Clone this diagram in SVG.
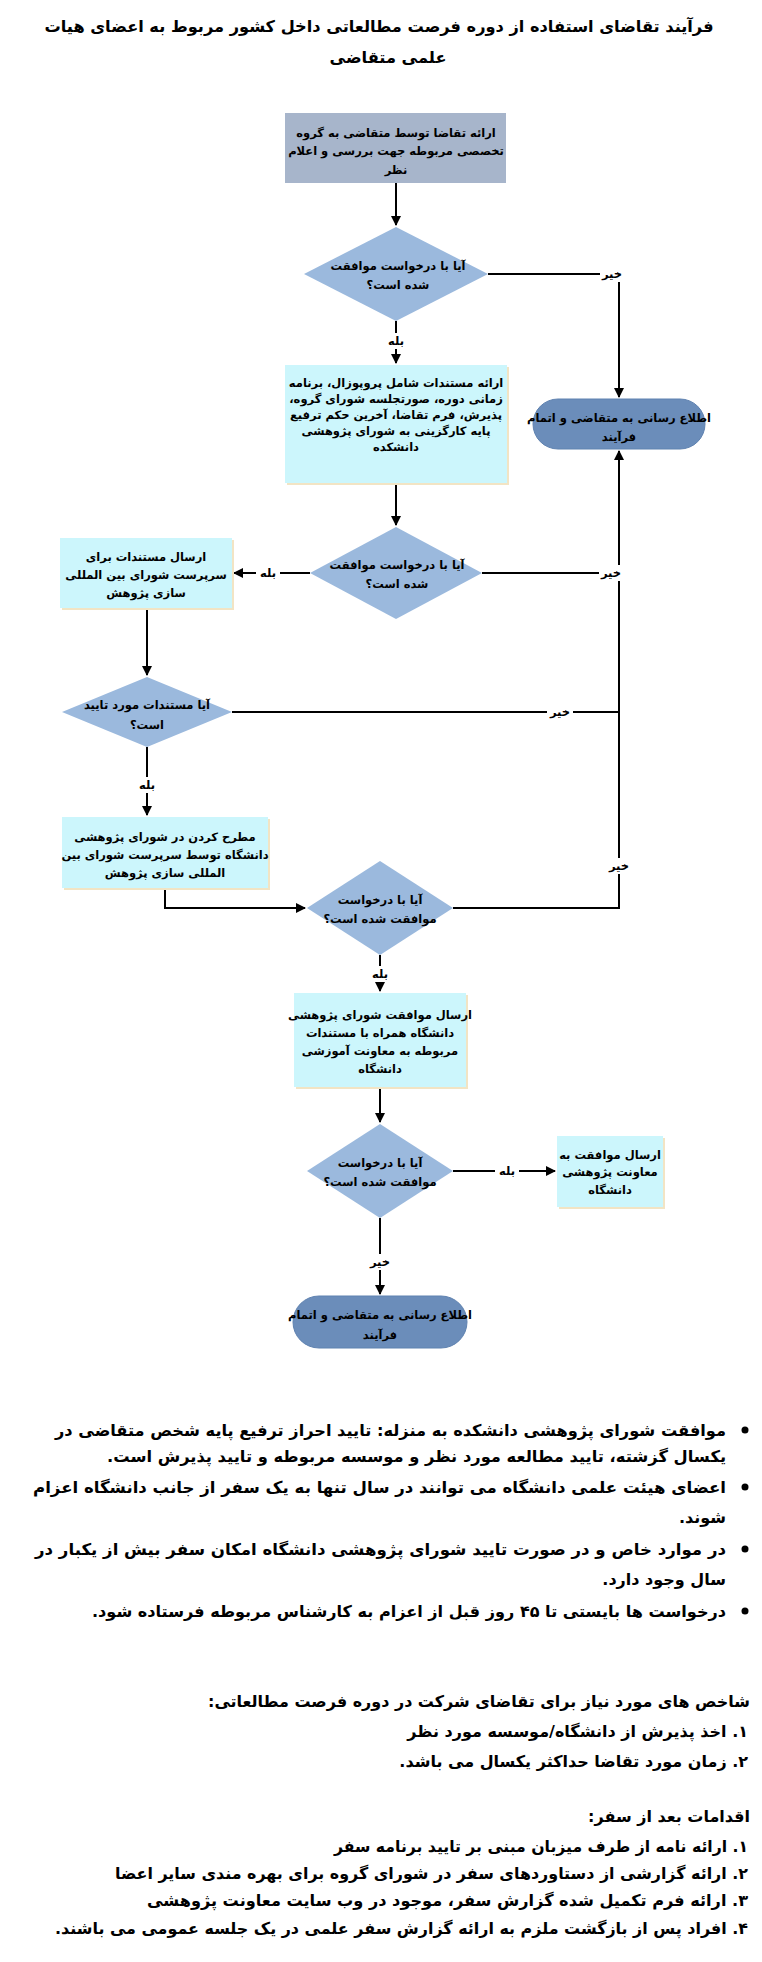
<svg xmlns="http://www.w3.org/2000/svg" width="762" height="1962" viewBox="0 0 762 1962">
<style>
text { font-family: "DejaVu Sans", "Noto Sans", sans-serif; font-weight: bold; fill: #000; direction: rtl; }
.t { font-size: 16.2px; text-anchor: middle; }
.n { font-size: 11.5px; text-anchor: middle; }
.l { font-size: 11.5px; text-anchor: middle; }
.p { font-size: 16px; text-anchor: start; }
.proc { fill: #ccf6fc; }
.shadow { fill: #f2e4c4; }
.dec { fill: #9bb9dd; }
.term { fill: #6b8dba; stroke: #5f82b0; stroke-width: 1; }
.start { fill: #a7b5cb; }
.c { stroke: #000; stroke-width: 2; fill: none; }
.lb { fill: #fff; }
</style>
<defs>
<marker id="ah" viewBox="0 0 10 10" refX="9" refY="5" markerWidth="5" markerHeight="5" orient="auto" markerUnits="strokeWidth">
<path d="M0,0 L10,5 L0,10 Z" fill="#000"/>
</marker>
</defs>
<rect width="762" height="1962" fill="#fff"/>

<g id="title">
<text class="t" x="379" y="32">فرآیند تقاضای استفاده از دوره فرصت مطالعاتی داخل کشور مربوط به اعضای هیات</text>
<text class="t" x="388" y="63">علمی متقاضی</text>
</g>

<g id="connectors">
<path class="c" d="M396,183 V225" marker-end="url(#ah)"/>
<path class="c" d="M396,321 V363" marker-end="url(#ah)"/>
<path class="c" d="M488,274 H619 V397" marker-end="url(#ah)"/>
<path class="c" d="M396,483 V525" marker-end="url(#ah)"/>
<path class="c" d="M310,573 H234" marker-end="url(#ah)"/>
<path class="c" d="M482,573 H619"/>
<path class="c" d="M147,608 V675" marker-end="url(#ah)"/>
<path class="c" d="M232,712 H619"/>
<path class="c" d="M147,747 V815" marker-end="url(#ah)"/>
<path class="c" d="M165,888 V908 H305" marker-end="url(#ah)"/>
<path class="c" d="M453,908 H619 V451" marker-end="url(#ah)"/>
<path class="c" d="M380,955 V991" marker-end="url(#ah)"/>
<path class="c" d="M380,1087 V1122" marker-end="url(#ah)"/>
<path class="c" d="M453,1171 H555" marker-end="url(#ah)"/>
<path class="c" d="M380,1218 V1294" marker-end="url(#ah)"/>
</g>

<g id="labels">
<rect class="lb" x="384" y="333" width="24" height="16"/>
<text class="l" x="396" y="345">بله</text>
<rect class="lb" x="600" y="266" width="26" height="16"/>
<text class="l" x="612" y="278">خیر</text>
<rect class="lb" x="256" y="565" width="24" height="16"/>
<text class="l" x="268" y="577">بله</text>
<rect class="lb" x="599" y="565" width="26" height="16"/>
<text class="l" x="611" y="577">خیر</text>
<rect class="lb" x="547" y="704" width="26" height="16"/>
<text class="l" x="560" y="716">خیر</text>
<rect class="lb" x="135" y="777" width="24" height="16"/>
<text class="l" x="147" y="789">بله</text>
<rect class="lb" x="606" y="858" width="26" height="16"/>
<text class="l" x="619" y="870">خیر</text>
<rect class="lb" x="368" y="966" width="24" height="16"/>
<text class="l" x="380" y="978">بله</text>
<rect class="lb" x="495" y="1163" width="24" height="16"/>
<text class="l" x="507" y="1175">بله</text>
<rect class="lb" x="367" y="1254" width="26" height="16"/>
<text class="l" x="380" y="1266">خیر</text>
</g>

<g id="n1">
<rect class="start" x="285" y="113" width="221" height="70"/>
<text class="n" x="396" y="137">ارائه تقاضا توسط متقاضی به گروه</text>
<text class="n" x="396" y="155">تخصصی مربوطه جهت بررسی و اعلام</text>
<text class="n" x="396" y="174">نظر</text>
</g>

<g id="d1">
<polygon class="dec" points="396,227 488,274 396,321 304,274"/>
<text class="n" x="398" y="270">آیا با درخواست موافقت</text>
<text class="n" x="398" y="289">شده است؟</text>
</g>

<g id="t1">
<rect class="term" x="533" y="399" width="172" height="50" rx="25"/>
<text class="n" x="619" y="422">اطلاع رسانی به متقاضی و اتمام</text>
<text class="n" x="619" y="441">فرآیند</text>
</g>

<g id="n2">
<rect class="shadow" x="287" y="367" width="222" height="118"/>
<rect class="proc" x="285" y="365" width="222" height="118"/>
<text class="n" x="396" y="387">ارائه مستندات شامل پروپوزال، برنامه</text>
<text class="n" x="396" y="403">زمانی دوره، صورتجلسه شورای گروه،</text>
<text class="n" x="396" y="419">پذیرش، فرم تقاضا، آخرین حکم ترفیع</text>
<text class="n" x="396" y="435">پایه کارگزینی به شورای پژوهشی</text>
<text class="n" x="396" y="451">دانشکده</text>
</g>

<g id="d2">
<polygon class="dec" points="396,527 482,573 396,619 310,573"/>
<text class="n" x="397" y="569">آیا با درخواست موافقت</text>
<text class="n" x="397" y="588">شده است؟</text>
</g>

<g id="n3">
<rect class="shadow" x="62" y="540" width="172" height="70"/>
<rect class="proc" x="60" y="538" width="172" height="70"/>
<text class="n" x="146" y="561">ارسال مستندات برای</text>
<text class="n" x="146" y="579">سرپرست شورای بین المللی</text>
<text class="n" x="146" y="597">سازی پژوهش</text>
</g>

<g id="d3">
<polygon class="dec" points="147,677 232,712 147,747 62,712"/>
<text class="n" x="147" y="709">آیا مستندات مورد تایید</text>
<text class="n" x="147" y="729">است؟</text>
</g>

<g id="n4">
<rect class="shadow" x="64" y="819" width="206" height="71"/>
<rect class="proc" x="62" y="817" width="206" height="71"/>
<text class="n" x="165" y="841">مطرح کردن در شورای پژوهشی</text>
<text class="n" x="165" y="859">دانشگاه توسط سرپرست شورای بین</text>
<text class="n" x="165" y="877">المللی سازی پژوهش</text>
</g>

<g id="d4">
<polygon class="dec" points="380,861 453,908 380,955 307,908"/>
<text class="n" x="380" y="904">آیا با درخواست</text>
<text class="n" x="380" y="923">موافقت شده است؟</text>
</g>

<g id="n5">
<rect class="shadow" x="296" y="995" width="172" height="94"/>
<rect class="proc" x="294" y="993" width="172" height="94"/>
<text class="n" x="380" y="1019">ارسال موافقت شورای پژوهشی</text>
<text class="n" x="380" y="1037">دانشگاه همراه با مستندات</text>
<text class="n" x="380" y="1055">مربوطه به معاونت آموزشی</text>
<text class="n" x="380" y="1073">دانشگاه</text>
</g>

<g id="d5">
<polygon class="dec" points="380,1124 453,1171 380,1218 307,1171"/>
<text class="n" x="380" y="1167">آیا با درخواست</text>
<text class="n" x="380" y="1186">موافقت شده است؟</text>
</g>

<g id="n6">
<rect class="shadow" x="559" y="1138" width="106" height="71"/>
<rect class="proc" x="557" y="1136" width="106" height="71"/>
<text class="n" x="610" y="1159">ارسال موافقت به</text>
<text class="n" x="610" y="1176">معاونت پژوهشی</text>
<text class="n" x="610" y="1194">دانشگاه</text>
</g>

<g id="t2">
<rect class="term" x="293" y="1296" width="174" height="52" rx="26"/>
<text class="n" x="380" y="1319">اطلاع رسانی به متقاضی و اتمام</text>
<text class="n" x="380" y="1339">فرآیند</text>
</g>

<g id="notes">
<circle cx="745" cy="1430" r="3.5"/>
<circle cx="745" cy="1487" r="3.5"/>
<circle cx="745" cy="1549" r="3.5"/>
<circle cx="745" cy="1611" r="3.5"/>
<text class="p" x="726" y="1436" textLength="671" lengthAdjust="spacingAndGlyphs">موافقت شورای پژوهشی دانشکده به منزله: تایید احراز ترفیع پایه شخص متقاضی در</text>
<text class="p" x="726" y="1462" textLength="619" lengthAdjust="spacingAndGlyphs">یکسال گزشته، تایید مطالعه مورد نظر و موسسه مربوطه و تایید پذیرش است.</text>
<text class="p" x="726" y="1493" textLength="693" lengthAdjust="spacingAndGlyphs">اعضای هیئت علمی دانشگاه می توانند در سال تنها به یک سفر از جانب دانشگاه اعزام</text>
<text class="p" x="726" y="1523">شوند.</text>
<text class="p" x="726" y="1555" textLength="691" lengthAdjust="spacingAndGlyphs">در موارد خاص و در صورت تایید شورای پژوهشی دانشگاه امکان سفر بیش از یکبار در</text>
<text class="p" x="726" y="1585">سال وجود دارد.</text>
<text class="p" x="726" y="1617" textLength="634" lengthAdjust="spacingAndGlyphs">درخواست ها بایستی تا ۴۵ روز قبل از اعزام به کارشناس مربوطه فرستاده شود.</text>

<text class="p" x="750" y="1707" textLength="542" lengthAdjust="spacingAndGlyphs">شاخص های مورد نیاز برای تقاضای شرکت در دوره فرصت مطالعاتی:</text>
<text class="p" x="748" y="1737">۱. اخذ پذیرش از دانشگاه/موسسه مورد نظر</text>
<text class="p" x="748" y="1767">۲. زمان مورد تقاضا حداکثر یکسال می باشد.</text>

<text class="p" x="750" y="1822">اقدامات بعد از سفر:</text>
<text class="p" x="748" y="1852" textLength="414" lengthAdjust="spacingAndGlyphs">۱. ارائه نامه از طرف میزبان مبنی بر تایید برنامه سفر</text>
<text class="p" x="748" y="1879" textLength="633" lengthAdjust="spacingAndGlyphs">۲. ارائه گزارشی از دستاوردهای سفر در شورای گروه برای بهره مندی سایر اعضا</text>
<text class="p" x="748" y="1906" textLength="601" lengthAdjust="spacingAndGlyphs">۳. ارائه فرم تکمیل شده گزارش سفر، موجود در وب سایت معاونت پژوهشی</text>
<text class="p" x="748" y="1934" textLength="693" lengthAdjust="spacingAndGlyphs">۴. افراد پس از بازگشت ملزم به ارائه گزارش سفر علمی در یک جلسه عمومی می باشند.</text>
</g>
</svg>
